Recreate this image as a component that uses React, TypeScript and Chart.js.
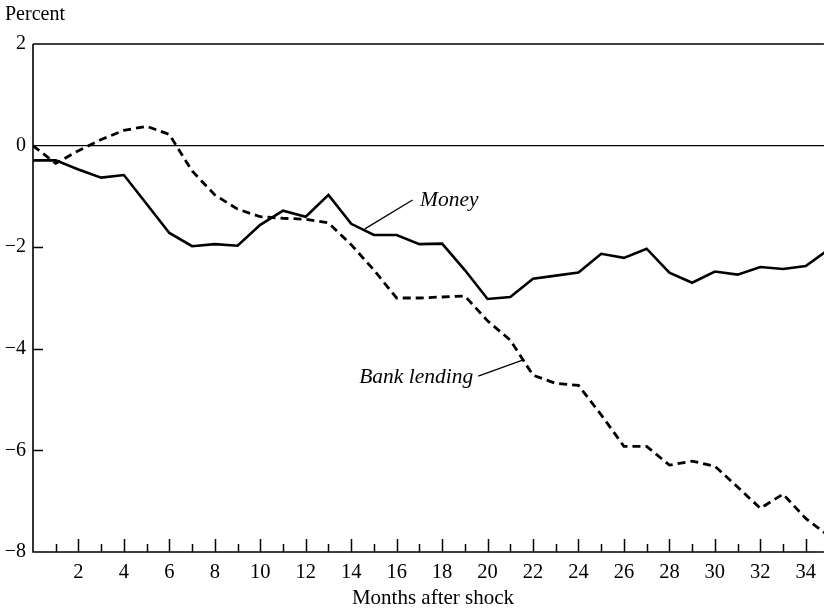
import React, { useEffect, useRef } from "react";
import { Chart, registerables } from "chart.js";

Chart.register(...registerables);

// Months after shock
const months: number[] = Array.from({ length: 36 }, (_, i) => i);

// Impulse responses (percent)
const moneySeries: number[] = [
  -0.29, -0.29, -0.47, -0.63, -0.58, -1.15, -1.72, -1.98, -1.94, -1.97,
  -1.56, -1.28, -1.4, -0.97, -1.54, -1.76, -1.76, -1.94, -1.93, -2.45,
  -3.02, -2.98, -2.62, -2.56, -2.5, -2.13, -2.21, -2.03, -2.5, -2.7,
  -2.48, -2.54, -2.39, -2.43, -2.37, -2.05,
];

const bankLendingSeries: number[] = [
  0, -0.35, -0.1, 0.12, 0.3, 0.38, 0.22, -0.5, -0.97, -1.25,
  -1.4, -1.43, -1.45, -1.52, -1.95, -2.45, -3.0, -3.0, -2.98, -2.96,
  -3.45, -3.83, -4.52, -4.68, -4.72, -5.3, -5.92, -5.92, -6.29, -6.21,
  -6.31, -6.72, -7.14, -6.86, -7.34, -7.68,
];

const xTickLabels: number[] = [2, 4, 6, 8, 10, 12, 14, 16, 18, 20, 22, 24, 26, 28, 30, 32, 34];
const yTickLabels: number[] = [-8, -6, -4, -2, 0, 2];

const FONT = "'Liberation Serif', 'Times New Roman', serif";

export default function App() {
  const ref = useRef<HTMLCanvasElement | null>(null);

  useEffect(() => {
    document.body.style.margin = "0";
    const canvas = ref.current;
    if (!canvas) return;

    const framePlugin = {
      id: "frame",
      beforeDatasetsDraw(chart: any) {
        const { ctx, chartArea, scales } = chart;
        const xs = scales.x;
        const ys = scales.y;
        ctx.save();
        ctx.strokeStyle = "#000";
        ctx.lineCap = "butt";
        // axes: left, bottom, top
        ctx.lineWidth = 1.6;
        ctx.beginPath();
        ctx.moveTo(chartArea.left, chartArea.top);
        ctx.lineTo(chartArea.left, chartArea.bottom);
        ctx.lineTo(chartArea.right, chartArea.bottom);
        ctx.stroke();
        ctx.lineWidth = 1.3;
        ctx.beginPath();
        ctx.moveTo(chartArea.left, ys.getPixelForValue(2));
        ctx.lineTo(chartArea.right, ys.getPixelForValue(2));
        ctx.stroke();
        // zero line
        ctx.lineWidth = 1.2;
        ctx.beginPath();
        ctx.moveTo(chartArea.left, ys.getPixelForValue(0));
        ctx.lineTo(chartArea.right, ys.getPixelForValue(0));
        ctx.stroke();
        // x tick marks (inward)
        ctx.lineWidth = 1.5;
        for (let m = 1; m <= 34; m++) {
          const px = Math.round(xs.getPixelForValue(m)) + 0.5;
          const len = m % 2 === 0 ? 13 : 8;
          ctx.beginPath();
          ctx.moveTo(px, chartArea.bottom);
          ctx.lineTo(px, chartArea.bottom - len);
          ctx.stroke();
        }
        // y tick marks (inward)
        for (const v of [-6, -4, -2]) {
          const py = Math.round(ys.getPixelForValue(v)) + 0.5;
          ctx.beginPath();
          ctx.moveTo(chartArea.left, py);
          ctx.lineTo(chartArea.left + 10, py);
          ctx.stroke();
        }
        ctx.restore();
      },
      afterDatasetsDraw(chart: any) {
        const { ctx, chartArea, scales } = chart;
        const xs = scales.x;
        const ys = scales.y;
        ctx.save();
        ctx.fillStyle = "#000";
        ctx.strokeStyle = "#000";
        // Titles
        ctx.font = `20px ${FONT}`;
        ctx.textBaseline = "middle";
        ctx.textAlign = "left";
        ctx.fillText("Percent", 5, 15);
        ctx.font = `21px ${FONT}`;
        ctx.textAlign = "center";
        ctx.fillText("Months after shock", 433, 598);
        // Annotations
        ctx.font = `italic 21.5px ${FONT}`;
        ctx.textAlign = "left";
        ctx.fillText("Money", xs.getPixelForValue(17.03), ys.getPixelForValue(-1.07));
        ctx.textAlign = "right";
        ctx.fillText("Bank lending", xs.getPixelForValue(19.37), ys.getPixelForValue(-4.56));
        ctx.lineWidth = 1.3;
        ctx.beginPath();
        ctx.moveTo(xs.getPixelForValue(16.7), ys.getPixelForValue(-1.07));
        ctx.lineTo(xs.getPixelForValue(14.6), ys.getPixelForValue(-1.64));
        ctx.stroke();
        ctx.beginPath();
        ctx.moveTo(xs.getPixelForValue(19.59), ys.getPixelForValue(-4.54));
        ctx.lineTo(xs.getPixelForValue(21.57), ys.getPixelForValue(-4.22));
        ctx.stroke();
        ctx.restore();
      },
    };

    const chart = new Chart(canvas, {
      type: "line",
      data: {
        labels: months,
        datasets: [
          {
            label: "Money",
            data: months.map((m, i) => ({ x: m, y: moneySeries[i] })),
            borderColor: "#000",
            borderWidth: 2.6,
            pointRadius: 0,
            tension: 0,
            fill: false,
            borderJoinStyle: "miter",
          },
          {
            label: "Bank lending",
            data: months.map((m, i) => ({ x: m, y: bankLendingSeries[i] })),
            borderColor: "#000",
            borderWidth: 2.8,
            borderDash: [8, 5],
            pointRadius: 0,
            tension: 0,
            fill: false,
          },
        ],
      },
      options: {
        responsive: false,
        animation: false,
        layout: { padding: { top: 44, right: 0, left: 0, bottom: 0 } },
        plugins: {
          legend: { display: false },
          tooltip: { enabled: false },
        },
        scales: {
          x: {
            type: "linear",
            min: 0,
            max: 34.8,
            grid: { display: false, drawTicks: false },
            border: { display: false },
            afterBuildTicks: (scale: any) => {
              scale.ticks = xTickLabels.map((v) => ({ value: v }));
            },
            afterFit: (scale: any) => {
              scale.height = 59;
            },
            ticks: {
              autoSkip: false,
              maxRotation: 0,
              padding: 8,
              color: "#000",
              font: { family: FONT, size: 20.5 },
              callback: (v: any) => String(v),
            },
          },
          y: {
            type: "linear",
            min: -8,
            max: 2,
            grid: { display: false, drawTicks: false },
            border: { display: false },
            afterBuildTicks: (scale: any) => {
              scale.ticks = yTickLabels.map((v) => ({ value: v }));
            },
            afterFit: (scale: any) => {
              scale.width = 33;
            },
            ticks: {
              padding: 7,
              color: "#000",
              font: { family: FONT, size: 20 },
              callback: (v: any) => (v < 0 ? "\u2212" + Math.abs(v) : String(v)),
            },
          },
        },
      },
      plugins: [framePlugin],
    });

    return () => chart.destroy();
  }, []);

  return (
    <canvas
      ref={ref}
      width={824}
      height={611}
      style={{ display: "block", width: 824, height: 611 }}
    />
  );
}
